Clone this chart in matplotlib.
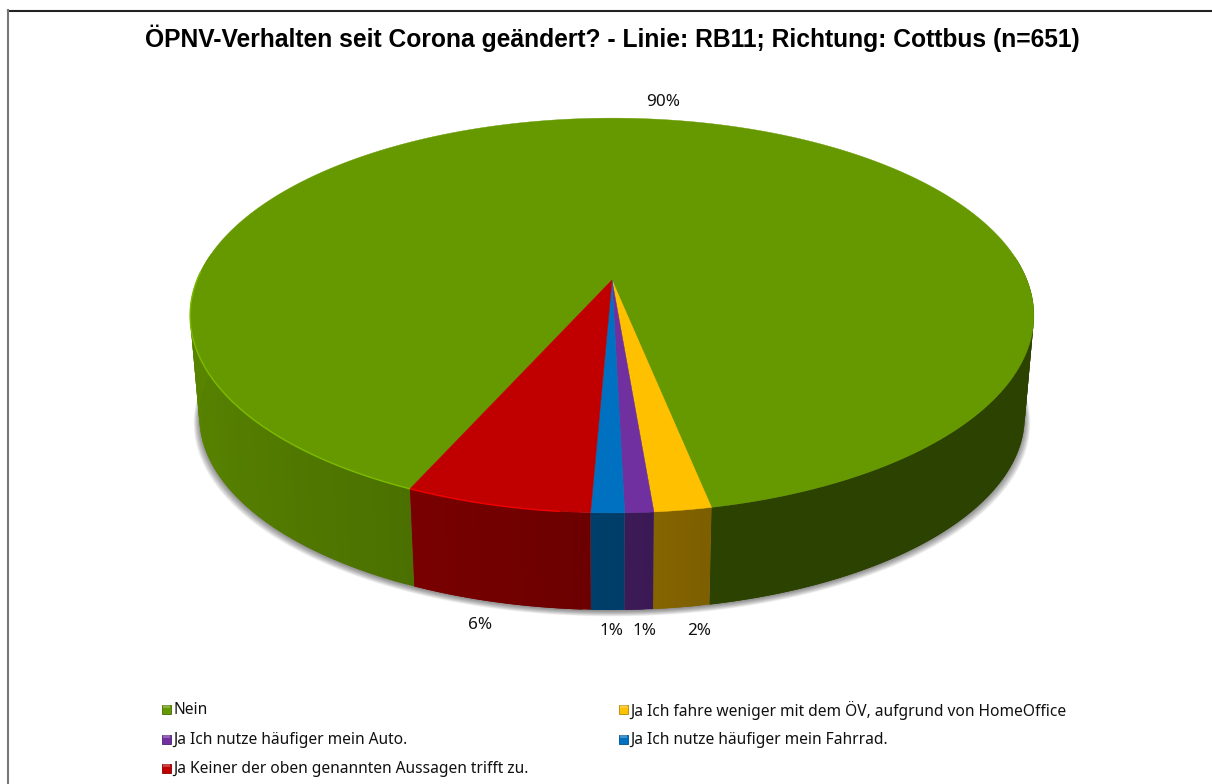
import numpy as np
import matplotlib
matplotlib.use("Agg")
from matplotlib import pyplot as plt
from matplotlib.colors import to_rgb
from matplotlib.patches import Polygon, Rectangle

labels = ["Nein",
          "Ja Ich fahre weniger mit dem ÖV, aufgrund von HomeOffice",
          "Ja Ich nutze häufiger mein Auto.",
          "Ja Ich nutze häufiger mein Fahrrad.",
          "Ja Keiner der oben genannten Aussagen trifft zu."]
counts = [587, 12, 6, 7, 39]
colors = ["#669900", "#FFC000", "#7030A0", "#0070C0", "#C00000"]
rim_colors = ["#7DBB00", "#FFC000", "#7030A0", "#0070C0", "#F00000"]
title = "ÖPNV-Verhalten seit Corona geändert? - Linie: RB11; Richtung: Cottbus (n=651)"

FONT = "Noto Sans"
START = 204.0  # degrees clockwise from the back of the pie
K = 0.18


def project(theta, a, b, y0):
    # circle in the pie plane -> perspective on the page, theta clockwise from back
    x = np.sin(np.radians(theta))
    y = -np.cos(np.radians(theta))
    w = 1 - K * y
    return 612 + a * x / w, y0 + b * y / w


def top(theta):
    return project(theta, 415, 191, 280)


def bottom(theta):
    return project(theta, 406, 187, 382)


def wall_shade(theta, is_first):
    # light on the left of the wall, dark on the right
    s = -np.sin(np.radians(theta))
    if is_first:
        return np.interp(s, [-0.05, 0.05, 0.4, 1.0], [0.43, 0.43, 0.73, 0.86])
    return np.interp(s, [-0.2, 0.0, 0.4], [0.49, 0.55, 0.63])


fig = plt.figure(figsize=(12.12, 7.84), dpi=100)
ax = fig.add_axes([0, 0, 1, 1])
ax.set_xlim(0, 1212)
ax.set_ylim(784, 0)
ax.axis("off")

ax.plot([8, 1212], [10.5, 10.5], color="#222222", lw=1.5)
ax.plot([8, 8], [784, 10], color="#777777", lw=1.5)

ax.text(612, 38, title, ha="center", va="center", fontsize=17.75, fontweight="bold",
        family="Liberation Sans", color="black")

# shadow under the pie
circle = np.linspace(0, 360, 361)
for i in range(10):
    bx, by = bottom(circle)
    ax.fill(612 + (bx - 612) * (1 + 0.0015 * i), by + 1 + i * 0.6, color="black",
            alpha=0.05, lw=0, zorder=1)

angles = START + np.concatenate([[0], np.cumsum(counts)]) / sum(counts) * 360

# walls, drawn slice by slice in small overlapping strips
for idx, (c, a0, a1) in enumerate(zip(colors, angles[:-1], angles[1:])):
    steps = np.append(np.arange(a0, a1, 1.0), a1)
    base = np.array(to_rgb(c))
    for t0, t1 in zip(steps[:-1], steps[1:]):
        tm = (t0 + t1) / 2
        if np.cos(np.radians(tm)) > 0.12:
            continue
        t_end = np.array([t1 + 1.0, a1]).min()
        tx0, ty0 = top(t0)
        tx1, ty1 = top(t_end)
        bx0, by0 = bottom(t0)
        bx1, by1 = bottom(t_end)
        rgb = base * wall_shade(tm, idx == 0)
        ax.add_patch(Polygon([(tx0, ty0), (tx1, ty1), (bx1, by1), (bx0, by0)],
                             closed=True, fc=rgb, ec="none", lw=0, zorder=2))

# top faces
for c, rc, a0, a1 in zip(colors, rim_colors, angles[:-1], angles[1:]):
    th = np.append(np.arange(a0, a1, 0.5), a1)
    x, y = top(th)
    ax.fill(np.r_[612, x], np.r_[280, y], color=c, lw=0.3, zorder=3)
    # lighter rim only along the front left
    lit = (np.sin(np.radians(th)) < -0.1) & (np.cos(np.radians(th)) < 0.05)
    if lit.any():
        ax.plot(x[lit], y[lit], color=rc, lw=1.0, zorder=4, solid_capstyle="butt")

# percent labels
pct_pos = [(663, 102), (699, 631), (644, 631), (611, 631), (480, 625)]
for n, (px, py) in zip(counts, pct_pos):
    ax.text(px, py, "{:.0f}%".format(n / sum(counts) * 100), ha="center", va="center",
            fontsize=12.3, family=FONT, color="#111111", zorder=5)

# legend
leg_pos = [(162, 709), (619, 709), (162, 739), (619, 739), (162, 768)]
for lab, c, (lx, ly) in zip(labels, colors, leg_pos):
    base = np.array(to_rgb(c))
    ax.add_patch(Rectangle((lx, ly - 4.5), 9, 9, fc=c, ec=base * 0.7, lw=0.6, zorder=5))
    ax.add_patch(Rectangle((lx + 1, ly - 4), 7, 3, fc="white", alpha=0.25, lw=0, zorder=6))
    ax.text(lx + 11.5, ly + 1, lab, ha="left", va="center", fontsize=11.2, family=FONT,
            color="#111111", zorder=5)

fig.savefig("out.png", dpi=100)
